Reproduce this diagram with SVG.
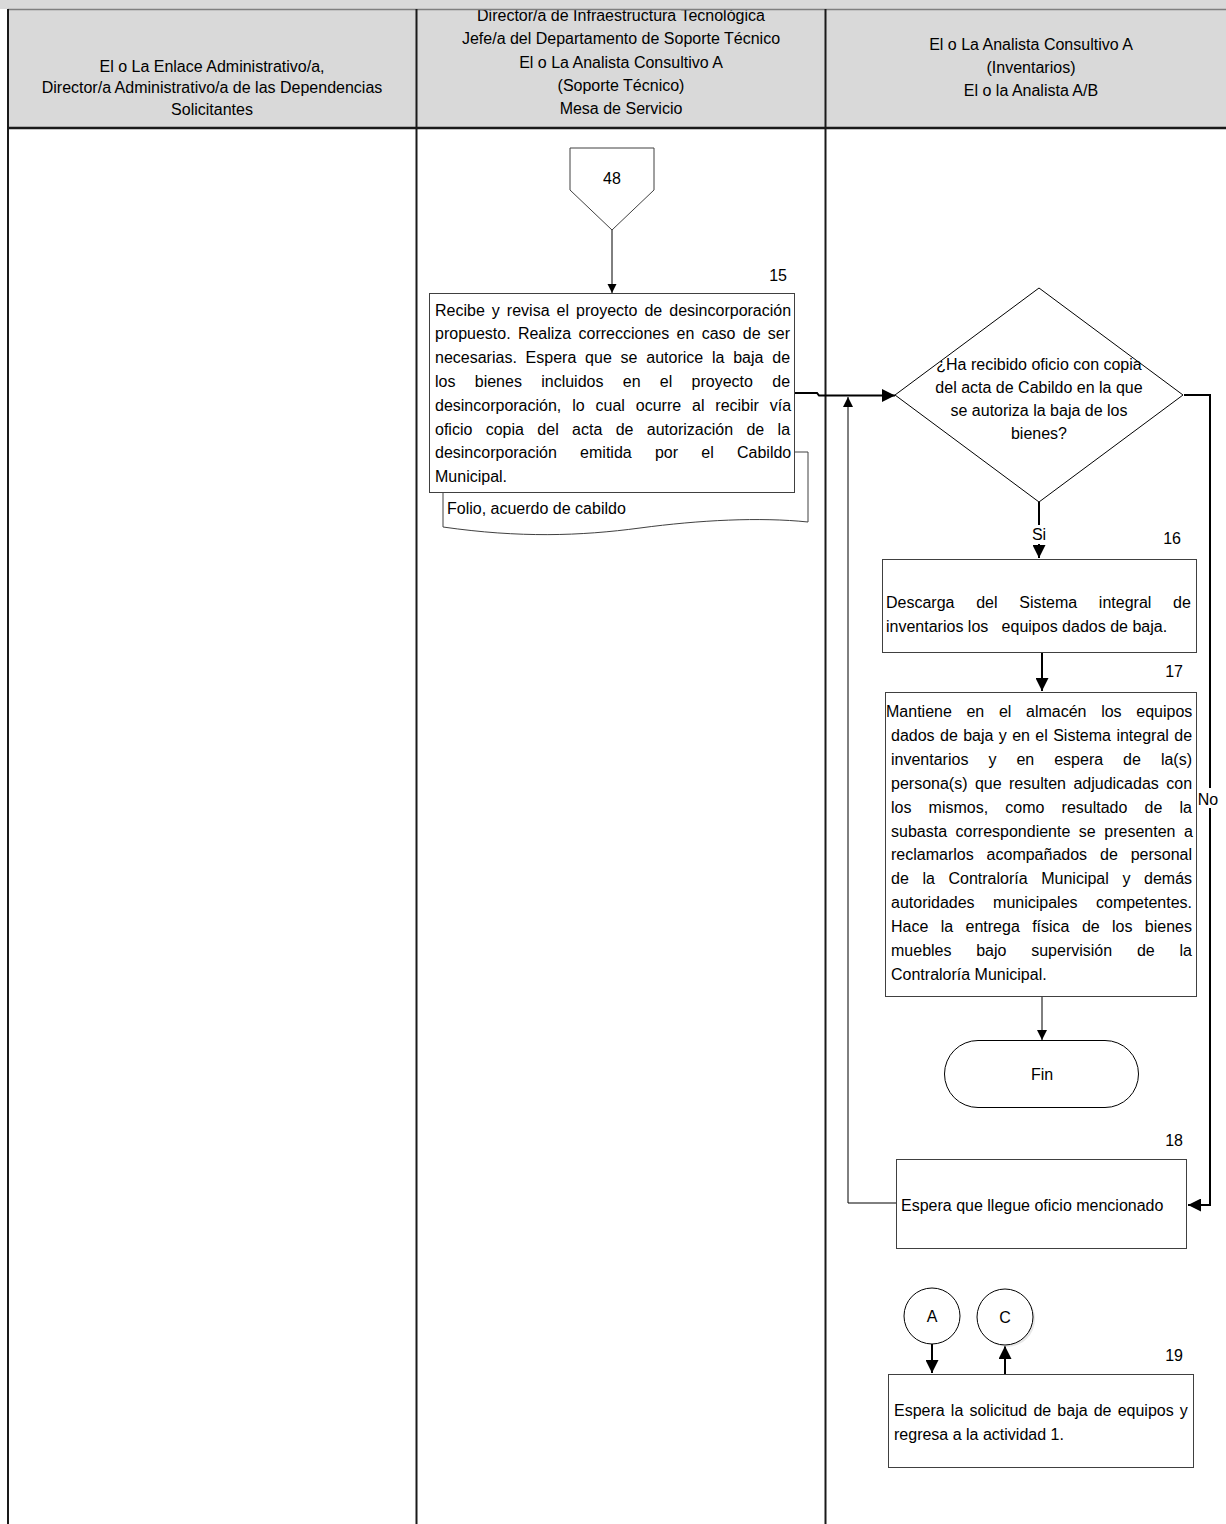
<svg xmlns="http://www.w3.org/2000/svg" width="1226" height="1524" viewBox="0 0 1226 1524">
<style>
.t{font-family:"Liberation Sans",Arial,sans-serif;font-size:16px;fill:#000}
.c{text-anchor:middle}
.e{text-anchor:end}
.box{fill:#fff;stroke:#404040;stroke-width:1}
.thin{fill:none;stroke:#000;stroke-width:1}
.thick{fill:none;stroke:#000;stroke-width:2}
.lane{stroke:#1a1a1a;stroke-width:2;fill:none}
</style>
<defs>
<marker id="ab" viewBox="0 0 10 10" refX="10" refY="5" markerWidth="14" markerHeight="13" markerUnits="userSpaceOnUse" orient="auto"><path d="M0,0 L10,5 L0,10 z" fill="#000"/></marker>
<marker id="as" viewBox="0 0 10 10" refX="10" refY="5" markerWidth="9" markerHeight="10" markerUnits="userSpaceOnUse" orient="auto"><path d="M0,0 L10,5 L0,10 z" fill="#000"/></marker>
<marker id="am" viewBox="0 0 10 10" refX="10" refY="5" markerWidth="11" markerHeight="10" markerUnits="userSpaceOnUse" orient="auto"><path d="M0,0 L10,5 L0,10 z" fill="#000"/></marker>
</defs>
<rect x="0" y="0" width="1226" height="1524" fill="#fff"/>
<g id="header">
<rect x="8" y="9" width="1218" height="119" fill="#d9d9d9"/>
<text class="t c"><tspan x="212" y="71.5">El o La Enlace Administrativo/a,</tspan><tspan x="212" y="93">Director/a Administrativo/a de las Dependencias</tspan><tspan x="212" y="114.5">Solicitantes</tspan></text>
<text class="t c"><tspan x="621" y="20.5">Director/a de Infraestructura Tecnológica</tspan><tspan x="621" y="44">Jefe/a del Departamento de Soporte Técnico</tspan><tspan x="621" y="67.5">El o La Analista Consultivo A</tspan><tspan x="621" y="91">(Soporte Técnico)</tspan><tspan x="621" y="114">Mesa de Servicio</tspan></text>
<text class="t c"><tspan x="1031" y="50">El o La Analista Consultivo A</tspan><tspan x="1031" y="73">(Inventarios)</tspan><tspan x="1031" y="96">El o la Analista A/B</tspan></text>
<rect x="0" y="0" width="1226" height="9" fill="#d9d9d9"/>
<line x1="8" y1="9.5" x2="1226" y2="9.5" stroke="#7f7f7f" stroke-width="1.5"/>
<line x1="8" y1="128" x2="1226" y2="128" stroke="#1a1a1a" stroke-width="2.5"/>
</g>
<g id="lanes">
<line class="lane" x1="8" y1="9" x2="8" y2="1524" stroke="#808080"/>
<line class="lane" x1="416.5" y1="9" x2="416.5" y2="1524"/>
<line class="lane" x1="825.5" y1="9" x2="825.5" y2="1524"/>
</g>
<g id="connectors">
<path class="thin" d="M612,230 V293" marker-end="url(#as)"/>
<path class="thick" d="M794,393 H817 L819,395.5 H895" marker-end="url(#ab)"/>
<path class="thin" d="M897,1203 H848 V397" marker-end="url(#am)"/>
<path class="thick" d="M1039,502 V558" marker-end="url(#ab)"/>
<rect x="1029" y="525" width="20" height="19" fill="#fff"/>
<text class="t c" x="1039" y="540">Si</text>
<path class="thick" d="M1184,395 H1210 V1205 H1188" marker-end="url(#ab)"/>
<rect x="1197" y="788" width="22" height="20" fill="#fff"/>
<text class="t c" x="1208" y="805">No</text>
<path class="thick" d="M1042,653 V691" marker-end="url(#ab)"/>
<path class="thin" d="M1042,997 V1040" marker-end="url(#am)"/>
<path class="thick" d="M932,1344 V1373" marker-end="url(#ab)"/>
<path class="thick" d="M1005,1374 V1346" marker-end="url(#ab)"/>
</g>
<g id="n48">
<path class="box" d="M570,148 H654 V190 L612,230 L570,190 Z" stroke="#333"/>
<text class="t c" x="612" y="184">48</text>
</g>
<g id="n15">
<path class="box" d="M443,452 H808 V522 C 760,517 700,520 640,528 C 580,536 520,538 443,527 Z"/>
<rect class="box" x="429.5" y="293.5" width="365" height="199"/>
<text class="t e" x="787" y="281">15</text>
<text class="t">
<tspan x="435" y="315.5" style="word-spacing:2.58px">Recibe y revisa el proyecto de desincorporación</tspan>
<tspan x="435" y="339.3" style="word-spacing:2.85px">propuesto. Realiza correcciones en caso de ser</tspan>
<tspan x="435" y="363.1" style="word-spacing:4.34px">necesarias. Espera que se autorice la baja de</tspan>
<tspan x="435" y="386.9" style="word-spacing:14.85px">los bienes incluidos en el proyecto de</tspan>
<tspan x="435" y="410.7" style="word-spacing:6.44px">desincorporación, lo cual ocurre al recibir vía</tspan>
<tspan x="435" y="434.5" style="word-spacing:8.92px">oficio copia del acta de autorización de la</tspan>
<tspan x="435" y="458.3" style="word-spacing:18.8px">desincorporación emitida por el Cabildo</tspan>
<tspan x="435" y="482.1">Municipal.</tspan>
</text>
<text class="t" x="447" y="514">Folio, acuerdo de cabildo</text>
</g>
<g id="decision">
<path d="M1039,288 L1183,395 L1039,502 L895,395 Z" fill="#fff" stroke="#000" stroke-width="1"/>
<text class="t c"><tspan x="1039" y="370">¿Ha recibido oficio con copia</tspan><tspan x="1039" y="393">del acta de Cabildo en la que</tspan><tspan x="1039" y="416">se autoriza la baja de los</tspan><tspan x="1039" y="439">bienes?</tspan></text>
</g>
<g id="n16">
<rect class="box" x="882.5" y="559.5" width="314" height="93"/>
<text class="t e" x="1181" y="544">16</text>
<text class="t" style="white-space:pre"><tspan x="886" y="608" style="word-spacing:17.3px">Descarga del Sistema integral de</tspan><tspan x="886" y="632">inventarios los   equipos dados de baja.</tspan></text>
</g>
<g id="n17">
<rect class="box" x="885.5" y="692.5" width="311" height="304"/>
<text class="t e" x="1183" y="677">17</text>
<text class="t">
<tspan x="886" y="717" style="word-spacing:10.2px">Mantiene en el almacén los equipos</tspan>
<tspan x="891" y="740.9" style="word-spacing:0.94px">dados de baja y en el Sistema integral de</tspan>
<tspan x="891" y="764.8" style="word-spacing:15.56px">inventarios y en espera de la(s)</tspan>
<tspan x="891" y="788.7" style="word-spacing:2.99px">persona(s) que resulten adjudicadas con</tspan>
<tspan x="891" y="812.6" style="word-spacing:12.7px">los mismos, como resultado de la</tspan>
<tspan x="891" y="836.5" style="word-spacing:4.1px">subasta correspondiente se presenten a</tspan>
<tspan x="891" y="860.4" style="word-spacing:8.45px">reclamarlos acompañados de personal</tspan>
<tspan x="891" y="884.3" style="word-spacing:9.16px">de la Contraloría Municipal y demás</tspan>
<tspan x="891" y="908.2" style="word-spacing:14px">autoridades municipales competentes.</tspan>
<tspan x="891" y="932.1" style="word-spacing:7.92px">Hace la entrega física de los bienes</tspan>
<tspan x="891" y="956" style="word-spacing:20.3px">muebles bajo supervisión de la</tspan>
<tspan x="891" y="979.9">Contraloría Municipal.</tspan>
</text>
</g>
<g id="fin">
<rect x="944.5" y="1040.5" width="194" height="67" rx="33.5" fill="#fff" stroke="#000" stroke-width="1"/>
<text class="t c" x="1042" y="1080">Fin</text>
</g>
<g id="n18">
<rect class="box" x="896.5" y="1159.5" width="290" height="89"/>
<text class="t e" x="1183" y="1146">18</text>
<text class="t" x="901" y="1211">Espera que llegue oficio mencionado</text>
</g>
<g id="connA">
<circle cx="932" cy="1316" r="28" fill="#fff" stroke="#000" stroke-width="1"/>
<text class="t c" x="932" y="1322">A</text>
</g>
<g id="connC">
<circle cx="1007" cy="1319" r="28" fill="#d8d8d8" opacity="0.6"/>
<circle cx="1005" cy="1317" r="28" fill="#fff" stroke="#000" stroke-width="1"/>
<text class="t c" x="1005" y="1323">C</text>
</g>
<g id="n19">
<rect class="box" x="888.5" y="1374.5" width="305" height="93"/>
<text class="t e" x="1183" y="1361">19</text>
<text class="t"><tspan x="894" y="1416" style="word-spacing:1.7px">Espera la solicitud de baja de equipos y</tspan><tspan x="894" y="1440">regresa a la actividad 1.</tspan></text>
</g>
</svg>
